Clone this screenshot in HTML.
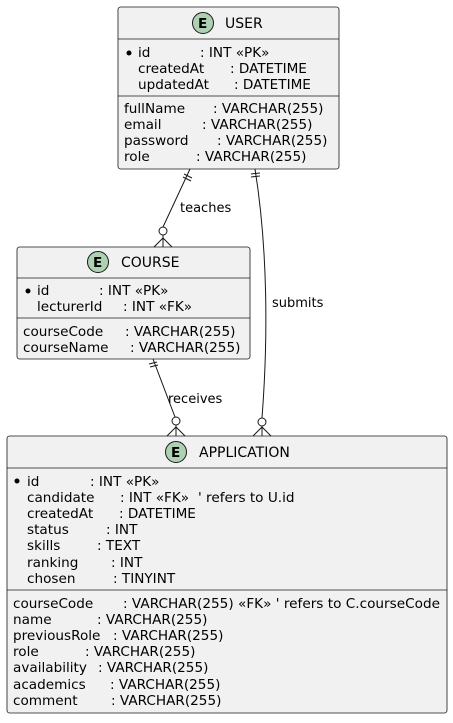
<!DOCTYPE html>
<html><head><meta charset="utf-8"><style>
html,body{margin:0;padding:0;background:#fff;}
svg text{font-family:"DejaVu Sans","Liberation Sans",sans-serif;font-size:13.6px;fill:#000;}
</style></head><body>
<svg width="453" height="718" viewBox="0 0 453 718" xmlns="http://www.w3.org/2000/svg">
<g fill="#F1F1F1" stroke="#181818" stroke-width="0.8">
<rect x="118" y="7" width="221" height="162" rx="2.5"/>
<rect x="17" y="247" width="233" height="112" rx="2.5"/>
<rect x="7" y="436" width="440" height="277" rx="2.5"/>
</g>
<g stroke="#181818" stroke-width="0.8">
<line x1="118" y1="39" x2="339" y2="39"/><line x1="118" y1="96" x2="339" y2="96"/>
<line x1="17" y1="278" x2="250" y2="278"/><line x1="17" y1="318" x2="250" y2="318"/>
<line x1="7" y1="468" x2="447" y2="468"/><line x1="7" y1="590" x2="447" y2="590"/>
</g>
<g fill="#ADD1B2" stroke="#181818" stroke-width="1">
<circle cx="203" cy="23" r="10.5"/><circle cx="98" cy="262" r="10.5"/><circle cx="176" cy="452" r="10.5"/>
</g>
<g style="font-weight:bold;font-size:14px">
<text x="198" y="28">E</text><text x="93" y="267">E</text><text x="171" y="457">E</text>
</g>
<text x="225" y="28" style="font-size:14px">USER</text>
<text x="121" y="267" style="font-size:14px">COURSE</text>
<text x="199" y="457" style="font-size:14px">APPLICATION</text>
<g fill="#000"><circle cx="129" cy="53" r="2.5"/><circle cx="28" cy="291" r="2.5"/><circle cx="17" cy="481" r="2.5"/></g>
<!-- USER -->
<text x="138" y="57">id</text><text x="200" y="57">: INT «PK»</text>
<text x="138" y="73">createdAt</text><text x="230" y="73">: DATETIME</text>
<text x="138" y="89">updatedAt</text><text x="234" y="89">: DATETIME</text>
<text x="124" y="113">fullName</text><text x="213" y="113">: VARCHAR(255)</text>
<text x="124" y="129">email</text><text x="202" y="129">: VARCHAR(255)</text>
<text x="124" y="145">password</text><text x="217" y="145">: VARCHAR(255)</text>
<text x="124" y="161">role</text><text x="196" y="161">: VARCHAR(255)</text>
<!-- COURSE -->
<text x="37" y="295">id</text><text x="99" y="295">: INT «PK»</text>
<text x="37" y="311">lecturerId</text><text x="123" y="311">: INT «FK»</text>
<text x="23" y="336">courseCode</text><text x="125" y="336">: VARCHAR(255)</text>
<text x="23" y="352">courseName</text><text x="130" y="352">: VARCHAR(255)</text>
<!-- APPLICATION -->
<text x="27" y="486">id</text><text x="90" y="486">: INT «PK»</text>
<text x="27" y="502">candidate</text><text x="120" y="502">: INT «FK»</text><text x="198" y="502">' refers to U.id</text>
<text x="27" y="518">createdAt</text><text x="119" y="518">: DATETIME</text>
<text x="27" y="534">status</text><text x="106" y="534">: INT</text>
<text x="27" y="550">skills</text><text x="97" y="550">: TEXT</text>
<text x="27" y="567">ranking</text><text x="111" y="567">: INT</text>
<text x="27" y="583">chosen</text><text x="113" y="583">: TINYINT</text>
<text x="13" y="608">courseCode</text><text x="123" y="608" textLength="317" lengthAdjust="spacingAndGlyphs">: VARCHAR(255) «FK» ' refers to C.courseCode</text>
<text x="13" y="624">name</text><text x="97" y="624">: VARCHAR(255)</text>
<text x="13" y="640">previousRole</text><text x="113" y="640">: VARCHAR(255)</text>
<text x="13" y="656">role</text><text x="85" y="656">: VARCHAR(255)</text>
<text x="13" y="672">availability</text><text x="98" y="672">: VARCHAR(255)</text>
<text x="13" y="689">academics</text><text x="110" y="689">: VARCHAR(255)</text>
<text x="13" y="705">comment</text><text x="111" y="705">: VARCHAR(255)</text>
<!-- connectors -->
<g stroke="#181818" stroke-width="1" fill="none">
<path d="M190 169 L163 227"/>
<line x1="184" y1="174" x2="192" y2="178"/><line x1="183" y1="177" x2="191" y2="181"/>
<circle cx="163" cy="231" r="4" fill="#fff"/>
<path d="M154 247 L163 238 L172 247 M163 235 L163 247"/>
<path d="M255 169 C268 250, 268 340, 262 418"/>
<line x1="251" y1="174" x2="260" y2="173"/><line x1="251" y1="177" x2="260" y2="176"/>
<circle cx="262" cy="422" r="4" fill="#fff"/>
<path d="M253 436 L262 427 L271 436 M262 426 L262 436"/>
<path d="M153 359 L175 417"/>
<line x1="149" y1="364" x2="157" y2="362"/><line x1="150" y1="367" x2="158" y2="365"/>
<circle cx="176" cy="421" r="4" fill="#fff"/>
<path d="M167 436 L176 427 L185 436 M176 425 L176 436"/>
</g>
<text x="180" y="212" style="font-size:13px">teaches</text>
<text x="272" y="307" style="font-size:13px">submits</text>
<text x="168" y="403" style="font-size:13px">receives</text>
</svg>
</body></html>
